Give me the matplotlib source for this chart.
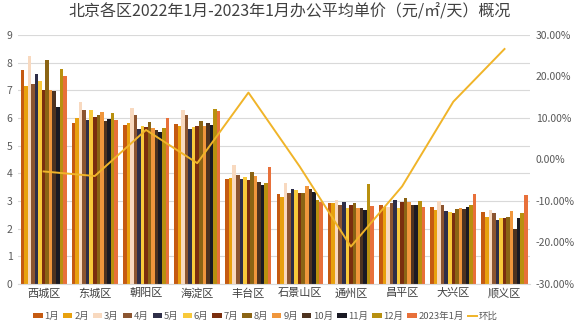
import numpy as np
import matplotlib
matplotlib.use('Agg')
import matplotlib.pyplot as plt
from matplotlib.ticker import FuncFormatter

plt.rcParams['font.family'] = ['Noto Sans CJK SC', 'DejaVu Sans']

districts = ['西城区', '东城区', '朝阳区', '海淀区', '丰台区',
             '石景山区', '通州区', '昌平区', '大兴区', '顺义区']
months = ['1月', '2月', '3月', '4月', '5月', '6月', '7月', '8月', '9月',
          '10月', '11月', '12月', '2023年1月']

# 每区13个月的单价（元/㎡/天），按月份排列
xicheng = [7.72, 7.14, 8.22, 7.24, 7.60, 7.33, 7.00, 8.10, 7.00, 6.96, 6.40, 7.75, 7.53]
dongcheng = [5.83, 6.00, 6.57, 6.28, 5.94, 6.28, 6.04, 6.11, 6.23, 5.89, 5.96, 6.16, 5.94]
chaoyang = [5.75, 5.82, 6.37, 6.11, 5.59, 5.70, 5.67, 5.84, 5.65, 5.58, 5.48, 5.63, 6.01]
haidian = [5.79, 5.72, 6.28, 6.10, 5.59, 5.67, 5.70, 5.90, 5.70, 5.82, 5.73, 6.32, 6.26]
fengtai = [3.80, 3.84, 4.29, 3.93, 3.78, 3.85, 3.75, 4.04, 3.90, 3.67, 3.57, 3.63, 4.21]
shijingshan = [3.25, 3.15, 3.63, 3.27, 3.42, 3.39, 3.27, 3.27, 3.55, 3.42, 3.34, 3.03, 2.97]
tongzhou = [2.91, 2.91, 3.03, 2.85, 2.95, 2.73, 2.85, 2.93, 2.75, 2.76, 2.69, 3.60, 2.81]
changping = [2.87, 2.79, 2.79, 2.91, 3.03, 2.76, 2.97, 3.09, 2.95, 2.87, 2.86, 3.00, 2.79]
daxing = [2.77, 2.69, 3.00, 2.85, 2.64, 2.61, 2.57, 2.72, 2.75, 2.70, 2.79, 2.87, 3.25]
shunyi = [2.59, 2.43, 2.67, 2.55, 2.31, 2.39, 2.39, 2.43, 2.63, 2.00, 2.39, 2.55, 3.22]

# 环比（%）
mom = [-2.9, -4.0, 7.1, -0.9, 16.1, -1.7, -21.0, -6.5, 13.9, 26.6]

colors = ['#C55A11', '#E8A10E', '#F8D9BF', '#8C5530', '#2E2E48', '#F8C93A',
          '#7B2E0E', '#8B6414', '#F0963C', '#4E3320', '#1A1A24', '#B8900F',
          '#E8703A']
line_color = '#F0B429'
text_color = '#595959'

prices = np.array([xicheng, dongcheng, chaoyang, haidian, fengtai,
                   shijingshan, tongzhou, changping, daxing, shunyi])

fig = plt.figure(figsize=(5.8, 3.26), dpi=100)
ax = fig.add_axes([0.031, 0.129, 0.883, 0.764])

x = np.arange(len(districts))
n = len(months)
width = 0.9 / n
handles = []
for i in range(n):
    b = ax.bar(x - 0.45 + width * (i + 0.5), prices[:, i], width,
               color=colors[i], label=months[i], zorder=2)
    handles.append(b)

ax.set_ylim(0, 9)
ax.set_xlim(-0.5, len(districts) - 0.5)
ax.set_yticks(range(0, 10))
ax.yaxis.grid(True, color='#D9D9D9', linewidth=0.8, zorder=0)
ax.set_axisbelow(True)
for s in ['top', 'right', 'left']:
    ax.spines[s].set_visible(False)
ax.spines['bottom'].set_color('#D9D9D9')
ax.tick_params(axis='both', length=0, colors=text_color, labelsize=7.5)
ax.set_xticks(x)
ax.set_xticklabels(districts, fontsize=8, color='#404040')
ax.tick_params(axis='x', pad=3)
ax.tick_params(axis='y', pad=4)

ax2 = ax.twinx()
ln, = ax2.plot(x, mom, color=line_color, linewidth=1.4, label='环比', zorder=3)
ax2.set_ylim(-30, 30)
ax2.set_yticks(range(-30, 31, 10))
ax2.yaxis.set_major_formatter(FuncFormatter(lambda v, p: '%.2f%%' % v))
ax2.tick_params(axis='y', length=0, colors=text_color, labelsize=7.5, pad=4)
for s in ['top', 'right', 'left', 'bottom']:
    ax2.spines[s].set_visible(False)

fig.suptitle('北京各区2022年1月-2023年1月办公平均单价（元/㎡/天）概况',
             x=0.5, y=0.99, fontsize=11.5, color='#404040')

fig.legend(handles + [ln], months + ['环比'], loc='lower center',
           bbox_to_anchor=(0.458, -0.01), ncol=14, frameon=False,
           fontsize=6.8, handlelength=1.0, handleheight=0.5,
           handletextpad=0.2, columnspacing=0.4, labelcolor=text_color)

fig.savefig('out.png', dpi=100)
